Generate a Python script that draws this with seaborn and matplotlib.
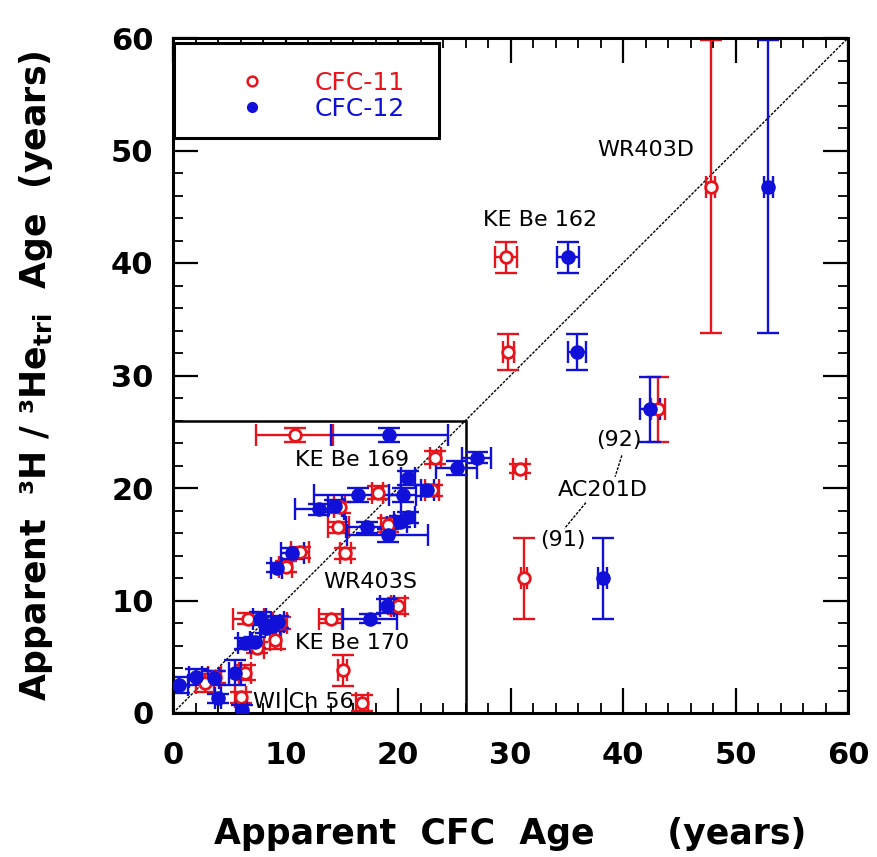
import numpy as np
import pandas as pd
import matplotlib
matplotlib.use("Agg")
import matplotlib.pyplot as plt
import seaborn as sns
from matplotlib.patches import Rectangle
from matplotlib.lines import Line2D

# ---------------- data ----------------
cfc11_x = [47.8, 29.6, 29.8, 43.1, 31.2, 30.8, 10.8, 23.3, 18.2, 23.0, 14.8, 14.7, 19.1, 15.3,
           11.3, 10.0, 6.7, 9.1, 7.5, 6.4, 2.8, 3.7, 6.0, 20.0, 14.0, 15.1, 16.8, 9.5]
cfc11_y = [46.8, 40.5, 32.1, 27.0, 12.0, 21.7, 24.7, 22.7, 19.6, 19.8, 18.3, 16.5, 16.7, 14.2,
           14.3, 13.0, 8.4, 6.5, 5.8, 3.6, 2.7, 3.2, 1.4, 9.5, 8.4, 3.8, 0.9, 8.0]
cfc11_xerr = [0.4, 1.0, 0.5, 0.6, 0.3, 0.6, 3.4, 0.5, 0.5, 0.6, 0.5, 0.9, 0.6, 0.5,
              0.8, 0.6, 1.4, 0.5, 0.6, 0.5, 0.8, 0.6, 0.5, 0.6, 1.0, 0.4, 0.5, 0.6]
cfc11_yerr = [13.0, 1.4, 1.6, 2.9, 3.6, 0.4, 0.6, 0.6, 0.6, 0.5, 0.5, 0.5, 0.6, 0.5,
              0.5, 0.5, 0.5, 0.8, 0.5, 0.7, 0.8, 0.5, 0.5, 0.7, 0.4, 1.4, 0.7, 0.5]

cfc12_x = [52.9, 35.1, 35.9, 42.4, 38.2, 27.0, 25.2, 19.2, 20.9, 20.4, 22.6, 16.4, 13.0, 14.4,
           17.2, 19.1, 20.9, 20.2, 10.6, 9.2, 7.7, 8.9, 9.3, 8.3, 6.4, 7.3, 5.5, 0.5,
           2.0, 3.6, 4.0, 6.1, 19.0, 17.5]
cfc12_y = [46.8, 40.5, 32.1, 27.0, 12.0, 22.7, 21.8, 24.7, 20.9, 19.4, 19.8, 19.4, 18.1, 18.4,
           16.5, 15.8, 17.4, 17.0, 14.2, 12.9, 8.4, 7.8, 8.1, 7.6, 6.2, 6.3, 3.6, 2.5,
           3.2, 3.1, 1.3, 0.3, 9.5, 8.4]
cfc12_xerr = [0.4, 1.0, 0.8, 0.9, 0.4, 1.3, 1.8, 5.2, 0.6, 1.2, 0.6, 3.9, 2.2, 0.6,
              1.8, 3.6, 0.6, 0.6, 1.0, 0.5, 0.6, 0.6, 0.6, 0.6, 0.6, 0.5, 0.5, 0.8,
              0.6, 0.5, 0.3, 0.5, 0.6, 2.4]
cfc12_yerr = [13.0, 1.4, 1.6, 2.9, 3.6, 0.5, 0.6, 0.6, 0.6, 0.6, 0.5, 0.6, 0.5, 0.5,
              0.5, 0.6, 0.5, 0.5, 0.5, 0.4, 0.6, 0.5, 0.5, 0.5, 0.5, 0.5, 1.1, 0.7,
              0.7, 0.6, 0.4, 0.4, 0.6, 0.4]

labels = ["WR403D", "KE Be 162", "KE Be 169", "WR403S", "KE Be 170", "WI Ch 56",
          "(92)", "AC201D", "(91)"]
label_x = [42.0, 32.6, 15.9, 17.5, 15.9, 11.6, 39.6, 38.2, 34.7]
label_y = [50.0, 43.8, 22.5, 11.6, 6.2, 1.0, 24.3, 19.8, 15.4]

RED = "#e8141c"
BLUE = "#1010d8"

df11 = pd.DataFrame({"x": cfc11_x, "y": cfc11_y, "xerr": cfc11_xerr, "yerr": cfc11_yerr,
                     "tracer": "CFC-11"})
df12 = pd.DataFrame({"x": cfc12_x, "y": cfc12_y, "xerr": cfc12_xerr, "yerr": cfc12_yerr,
                     "tracer": "CFC-12"})

sns.set_theme(style="ticks")
plt.rcParams["font.family"] = ["DejaVu Sans"]
plt.rcParams["text.color"] = "black"
plt.rcParams["axes.labelcolor"] = "black"
plt.rcParams["xtick.color"] = "black"
plt.rcParams["ytick.color"] = "black"

fig = plt.figure(figsize=(8.77, 8.57), dpi=100)
ax = fig.add_axes([173 / 877, 1 - 713 / 857, 675 / 877, 675 / 857])

# 1:1 line
ax.plot([0, 60], [0, 60], color="black", lw=1.0, ls=(0, (2, 1)), zorder=1)
# inset box
ax.add_patch(Rectangle((0, 0), 26.0, 26.0, fill=False, edgecolor="black", lw=1.8, zorder=1))

for d, c in ((df11, RED), (df12, BLUE)):
    ax.errorbar(d["x"], d["y"], xerr=d["xerr"], yerr=d["yerr"], fmt="none",
                ecolor=c, elinewidth=1.7, capsize=8, capthick=1.7, zorder=2)

sns.scatterplot(data=df11, x="x", y="y", ax=ax, marker="o", s=70,
                facecolor="white", edgecolor=RED, linewidth=2.0, zorder=3, legend=False)
sns.scatterplot(data=df12, x="x", y="y", ax=ax, marker="o", s=90,
                color=BLUE, edgecolor=BLUE, linewidth=1.0, zorder=3, legend=False)

for t, lx, ly in zip(labels, label_x, label_y):
    ax.text(lx, ly, t, fontsize=16, ha="center", va="center", color="black", zorder=4)

# leader lines for AC201D
ax.plot([39.9, 39.3], [22.9, 21.0], color="black", lw=1.0, ls=(0, (2, 1)))
ax.plot([36.7, 34.8], [18.7, 16.4], color="black", lw=1.0, ls=(0, (2, 1)))

ax.set_xlim(0, 60)
ax.set_ylim(0, 60)
ax.set_xticks(np.arange(0, 61, 10))
ax.set_yticks(np.arange(0, 61, 10))
ax.set_xticks(np.arange(0, 61, 2), minor=True)
ax.set_yticks(np.arange(0, 61, 2), minor=True)
ax.tick_params(which="both", direction="in", top=True, right=True, color="black",
               labelcolor="black")
ax.tick_params(which="major", length=18, width=1.6, labelsize=22, pad=14)
ax.tick_params(axis="x", which="major", pad=20)
ax.tick_params(which="minor", length=7.5, width=1.3)
for lab in ax.get_xticklabels() + ax.get_yticklabels():
    lab.set_fontweight("bold")
for s in ax.spines.values():
    s.set_linewidth(2.2)
    s.set_color("black")

ax.set_xlabel("Apparent  CFC  Age      (years)", fontsize=25, fontweight="bold",
              labelpad=34, color="black")
ax.set_ylabel("Apparent  \u00b3H / \u00b3He$_{\\mathregular{tri}}$  Age  (years)",
              fontsize=25, fontweight="bold", labelpad=40, color="black")

# legend box
ax.add_patch(Rectangle((0.002, 0.852), 0.392, 0.14, transform=ax.transAxes, fill=True,
                       facecolor="white", edgecolor="black", lw=2.2, zorder=5))
handles = [Line2D([], [], ls="none", marker="o", markersize=7, markerfacecolor="white",
                  markeredgecolor=RED, markeredgewidth=1.8),
           Line2D([], [], ls="none", marker="o", markersize=7, markerfacecolor=BLUE,
                  markeredgecolor=BLUE)]
leg = ax.legend(handles, ["CFC-11", "CFC-12"], loc="upper left",
                bbox_to_anchor=(0.065, 0.985), frameon=False, fontsize=18,
                handletextpad=2.0, labelspacing=0.1, handlelength=1.0)
leg.set_zorder(6)
for txt, c in zip(leg.get_texts(), (RED, BLUE)):
    txt.set_color(c)

ax.set_facecolor("white")
fig.patch.set_facecolor("white")
fig.savefig("out.png", dpi=100)
